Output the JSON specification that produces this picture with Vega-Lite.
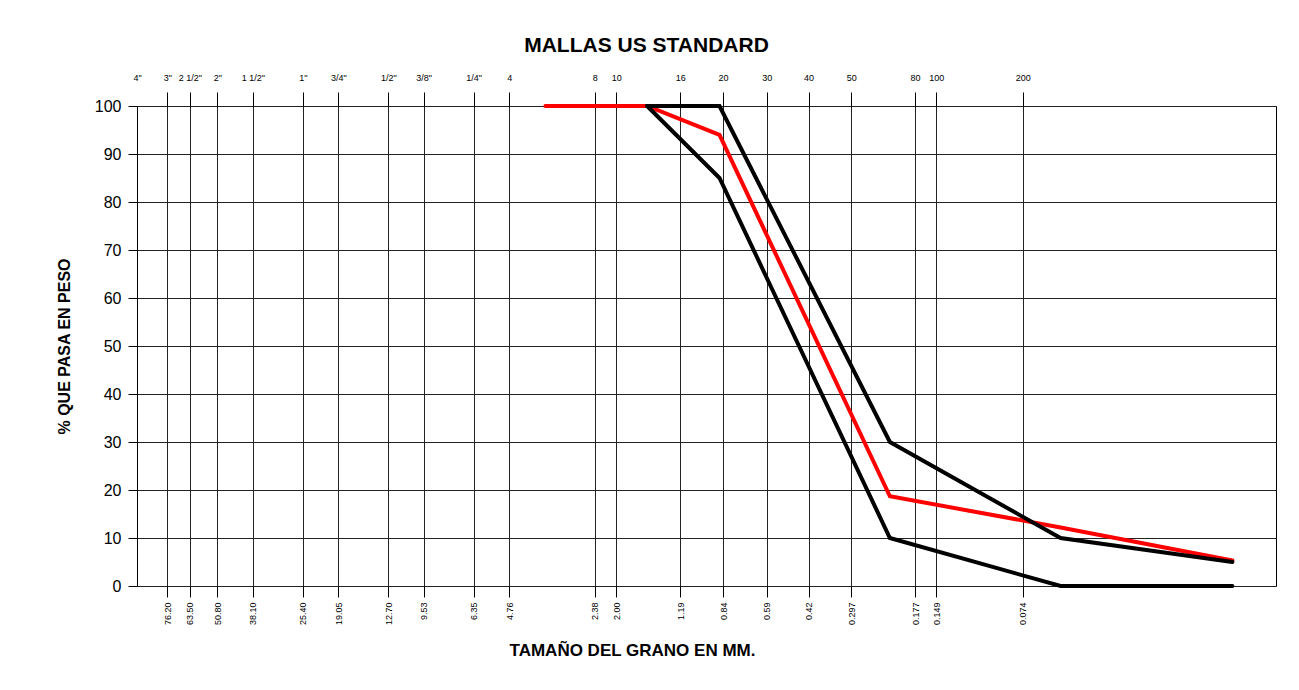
{
  "$schema": "https://vega.github.io/schema/vega-lite/v6.json",
  "autosize": {"type": "none"},
  "width": 1139,
  "height": 480,
  "padding": {"left": 137, "top": 106, "right": 23, "bottom": 104},
  "background": "white",
  "config": {"font": "Liberation Sans", "view": {"stroke": "#000", "strokeWidth": 1}},
  "title": {"text": "MALLAS US STANDARD", "font": "Liberation Sans", "fontSize": 21, "fontWeight": "bold", "color": "#000", "anchor": "middle", "dx": -60, "offset": 17},
  "data": {
    "values": [
      {"serie": "Muestra", "mm": 3.55, "pct": 100},
      {"serie": "Muestra", "mm": 1.556, "pct": 100},
      {"serie": "Muestra", "mm": 0.865, "pct": 94},
      {"serie": "Muestra", "mm": 0.2172, "pct": 18.7},
      {"serie": "Muestra", "mm": 0.0544, "pct": 12.2},
      {"serie": "Muestra", "mm": 0.0135, "pct": 5.3},
      {"serie": "Límite superior", "mm": 1.556, "pct": 100},
      {"serie": "Límite superior", "mm": 0.865, "pct": 100},
      {"serie": "Límite superior", "mm": 0.2172, "pct": 30},
      {"serie": "Límite superior", "mm": 0.0544, "pct": 10},
      {"serie": "Límite superior", "mm": 0.0135, "pct": 5},
      {"serie": "Límite inferior", "mm": 1.556, "pct": 100},
      {"serie": "Límite inferior", "mm": 0.865, "pct": 85},
      {"serie": "Límite inferior", "mm": 0.2172, "pct": 10},
      {"serie": "Límite inferior", "mm": 0.0544, "pct": 0},
      {"serie": "Límite inferior", "mm": 0.0135, "pct": 0}
    ]
  },
  "encoding": {
    "y": {
      "field": "pct", "type": "quantitative",
      "scale": {"domain": [0, 100], "nice": false},
      "axis": {
        "values": [0, 10, 20, 30, 40, 50, 60, 70, 80, 90, 100],
        "domain": false, "tickSize": 9, "tickColor": "#000", "labelPadding": 7,
        "labelFontSize": 16, "labelColor": "#000",
        "grid": true, "gridColor": "#222", "gridOpacity": 1,
        "title": "% QUE PASA EN PESO", "titleFontSize": 16, "titleFontWeight": "bold", "titleColor": "#000", "titlePadding": 22
      }
    },
    "color": {
      "field": "serie", "type": "nominal",
      "scale": {"domain": ["Muestra", "Límite superior", "Límite inferior"], "range": ["#ff0000", "#000000", "#000000"]},
      "legend": null
    }
  },
  "layer": [
    {
      "transform": [{"filter": "datum.serie == 'Muestra'"}],
      "mark": {"type": "line", "strokeWidth": 4, "strokeCap": "round", "strokeJoin": "miter"},
      "encoding": {
        "x": {
          "field": "mm", "type": "quantitative",
          "scale": {"type": "log", "domain": [0.00948, 97.45], "reverse": true, "nice": false},
          "axis": {
            "orient": "top",
            "values": [97.45, 76.2, 63.5, 50.8, 38.1, 25.4, 19.05, 12.7, 9.53, 6.35, 4.76, 2.38, 2.0, 1.19, 0.84, 0.59, 0.42, 0.297, 0.177, 0.149, 0.074],
            "labelExpr": "['4\"','3\"','2 1/2\"','2\"','1 1/2\"','1\"','3/4\"','1/2\"','3/8\"','1/4\"','4','8','10','16','20','30','40','50','80','100','200'][indexof([97.45, 76.2, 63.5, 50.8, 38.1, 25.4, 19.05, 12.7, 9.53, 6.35, 4.76, 2.38, 2.0, 1.19, 0.84, 0.59, 0.42, 0.297, 0.177, 0.149, 0.074], datum.value)]",
            "labelAngle": 0, "labelFontSize": 9, "labelColor": "#000", "labelOverlap": false, "labelFlush": false,
            "labelPadding": 10,
            "tickSize": 14, "tickColor": "#000",
            "tickOpacity": {"condition": {"test": "datum.value > 90", "value": 0}, "value": 1},
            "domain": false, "grid": false, "title": null
          }
        }
      }
    },
    {
      "transform": [{"filter": "datum.serie != 'Muestra'"}],
      "mark": {"type": "line", "strokeWidth": 4, "strokeCap": "round", "strokeJoin": "miter"},
      "encoding": {
        "x": {
          "field": "mm", "type": "quantitative",
          "scale": {"type": "log", "domain": [0.00948, 97.45], "reverse": true, "nice": false},
          "axis": {
            "orient": "bottom",
            "values": [76.2, 63.5, 50.8, 38.1, 25.4, 19.05, 12.7, 9.53, 6.35, 4.76, 2.38, 2.0, 1.19, 0.84, 0.59, 0.42, 0.297, 0.177, 0.149, 0.074],
            "labelExpr": "datum.value < 0.3 ? format(datum.value, '.3f') : format(datum.value, '.2f')",
            "labelAngle": 270, "labelAlign": "right", "labelBaseline": "middle",
            "labelFontSize": 9, "labelColor": "#000", "labelOverlap": false, "labelFlush": false,
            "labelPadding": 5,
            "tickSize": 11, "tickColor": "#000",
            "domain": false, "grid": true, "gridColor": "#222", "gridOpacity": 1,
            "title": "TAMAÑO DEL GRANO EN MM.", "titleFontSize": 17, "titleFontWeight": "bold", "titleColor": "#000",
            "titleX": 495, "titleY": 64, "titleAlign": "center", "titleBaseline": "middle"
          }
        }
      }
    }
  ],
  "resolve": {"axis": {"x": "independent"}}
}
